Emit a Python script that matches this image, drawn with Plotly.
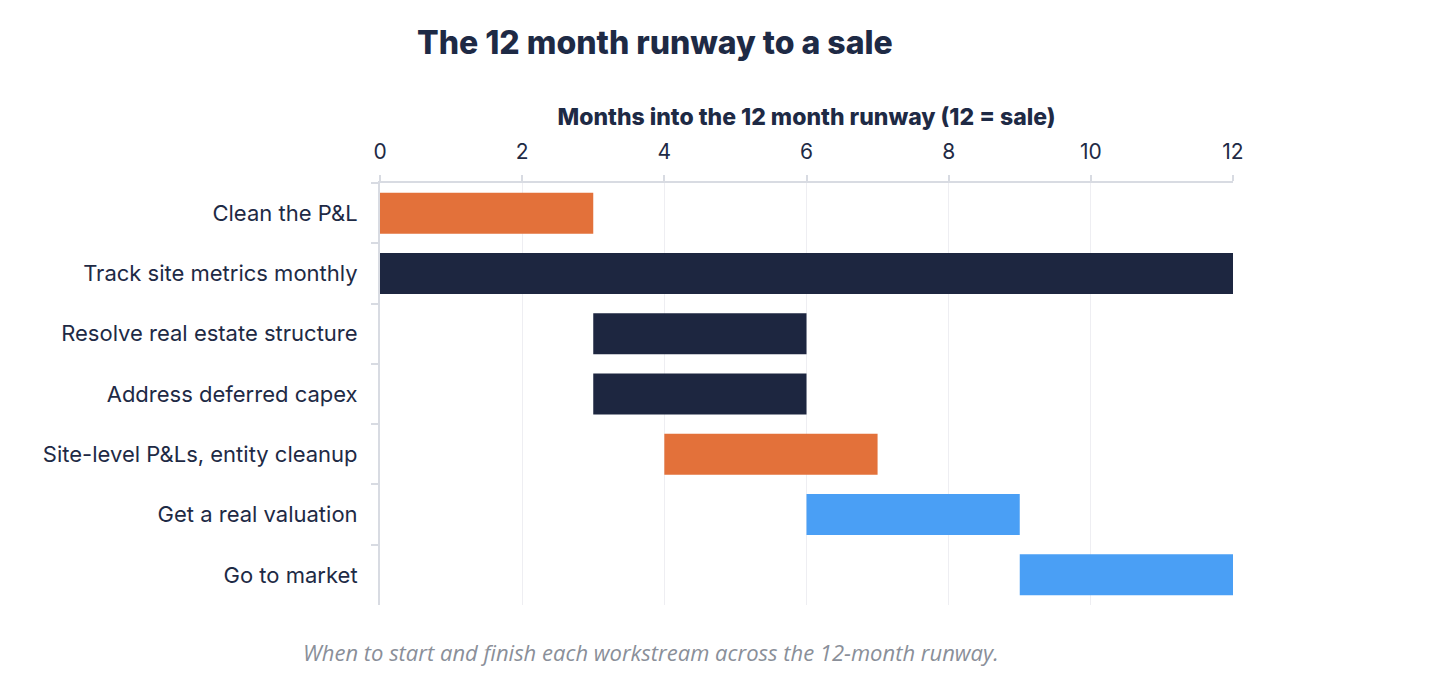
import plotly.graph_objects as go

tasks = [
    "Clean the P&L",
    "Track site metrics monthly",
    "Resolve real estate structure",
    "Address deferred capex",
    "Site-level P&Ls, entity cleanup",
    "Get a real valuation",
    "Go to market",
]
start_month = [0, 0, 3, 3, 4, 6, 9]
end_month = [3, 12, 6, 6, 7, 9, 12]
groups = ["orange", "navy", "navy", "navy", "orange", "blue", "blue"]
x_ticks = [0, 2, 4, 6, 8, 10, 12]

palette = {"orange": "#E3713A", "navy": "#1D2640", "blue": "#4A9FF5"}
ink = "#1E2A45"

# plot area in the screenshot: x 380..1233, y 183..605 (page has an 8px body margin)
fig = go.Figure(go.Bar(
    y=tasks,
    x=[e - s for s, e in zip(start_month, end_month)],
    base=start_month,
    orientation="h",
    marker=dict(color=[palette[g] for g in groups], line=dict(width=0)),
    hoverinfo="skip",
))

fig.update_layout(
    width=1430, height=692,
    margin=dict(l=372, r=205, t=175, b=95),
    paper_bgcolor="white", plot_bgcolor="white",
    font=dict(family="Inter, Roboto, sans-serif", color=ink),
    bargap=0.32,
    showlegend=False,
    xaxis=dict(
        side="top", range=[0, 12], tickvals=x_ticks,
        showgrid=True, gridcolor="#EEEEF2", gridwidth=1,
        showline=True, linecolor="#D8DBE2", linewidth=2,
        ticks="outside", ticklen=6, tickcolor="#D8DBE2", tickwidth=2,
        tickfont=dict(size=21, color=ink),
        ticklabelstandoff=8,
        zeroline=False,
        title=dict(text="Months into the 12 month runway (12 = sale)",
                   font=dict(size=23, color=ink, weight=800), standoff=7),
    ),
    yaxis=dict(
        autorange="reversed", type="category",
        showline=True, linecolor="#D8DBE2", linewidth=2,
        ticks="outside", tickson="boundaries", ticklen=7,
        tickcolor="#D8DBE2", tickwidth=2,
        tickfont=dict(size=22, color=ink),
        ticklabelstandoff=16,
        showgrid=False, zeroline=False,
    ),
    annotations=[
        dict(text="The 12 month runway to a sale", xref="paper", yref="paper",
             x=(415 - 380) / 853, y=1 + (183 - 43) / 422, xanchor="left", yanchor="middle",
             showarrow=False, font=dict(size=32, color=ink, weight=800)),
        dict(text="<i>When to start and finish each workstream across the 12-month runway.</i>",
             xref="paper", yref="paper", x=(651 - 380) / 853, y=-(652 - 605) / 422,
             xanchor="center", yanchor="middle", showarrow=False,
             font=dict(family="Open Sans, sans-serif", size=22, color="#8A8F99")),
    ],
)

fig.write_html("out.html")
